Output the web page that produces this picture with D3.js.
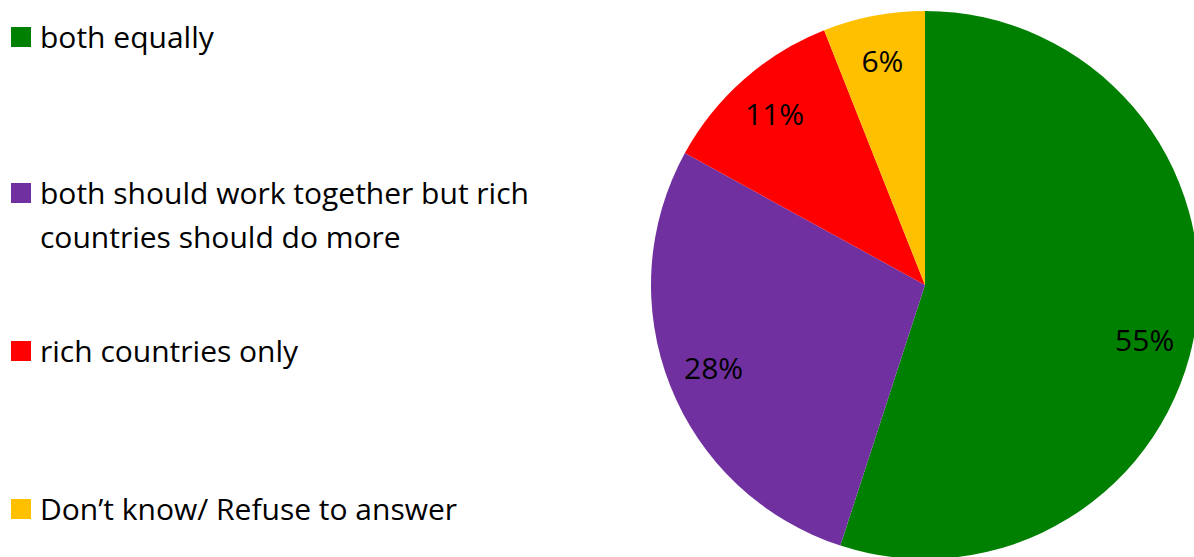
<!DOCTYPE html>
<meta charset="utf-8">
<script src="https://d3js.org/d3.v7.min.js"></script>
<style>
  body { margin: 0; background: #fff; }
  svg text { font-family: "Segoe UI", "Open Sans", "Noto Sans", sans-serif; fill: #000; }
</style>
<div id="chart"></div>
<script>
  // data
  const categories = ["both equally", "both should work together but rich countries should do more", "rich countries only", "Don\u2019t know/ Refuse to answer"];
  const legendLines = [["both equally"], ["both should work together but rich", "countries should do more"], ["rich countries only"], ["Don\u2019t know/ Refuse to answer"]];
  const values = [55, 28, 11, 6];
  const colors = ["#008000", "#7030A0", "#FF0000", "#FFC000"];

  const width = 1194, height = 557;
  const cx = 925, cy = 285, radius = 274;

  const svg = d3.select("#chart").append("svg")
    .attr("width", width)
    .attr("height", height);

  const color = d3.scaleOrdinal().domain(categories).range(colors);

  const pie = d3.pie().sort(null).value(d => d.value);
  const slices = pie(categories.map((c, i) => ({ key: c, value: values[i] })));

  const arc = d3.arc().innerRadius(0).outerRadius(radius);
  const labelArc = d3.arc().innerRadius(radius * 0.83).outerRadius(radius * 0.83);

  const g = svg.append("g").attr("transform", `translate(${cx},${cy})`);

  g.selectAll("path")
    .data(slices)
    .join("path")
    .attr("d", arc)
    .attr("fill", d => color(d.data.key));

  // excel's best-fit nudges the big slice's label down a bit
  const nudge = i => (i === 0 ? [-5, 20] : [0, 0]);

  g.selectAll("text.lbl")
    .data(slices)
    .join("text")
    .attr("class", "lbl")
    .attr("transform", (d, i) => {
      const [x, y] = labelArc.centroid(d);
      const [nx, ny] = nudge(i);
      return `translate(${x + nx},${y + ny})`;
    })
    .attr("text-anchor", "middle")
    .attr("dy", "0.35em")
    .attr("font-size", "30px")
    .text(d => d.data.value + "%");

  // legend
  const legendY = [37, 193, 351, 509];
  const leg = svg.append("g");
  categories.forEach((c, i) => {
    leg.append("rect")
      .attr("x", 11).attr("y", legendY[i] - 10)
      .attr("width", 20).attr("height", 20)
      .attr("fill", color(c));
    const t = leg.append("text")
      .attr("x", 40).attr("y", legendY[i])
      .attr("font-size", "30px");
    legendLines[i].forEach((line, j) => {
      t.append("tspan").attr("x", 40).attr("dy", j === 0 ? "0.35em" : "44px").text(line);
    });
  });
</script>
